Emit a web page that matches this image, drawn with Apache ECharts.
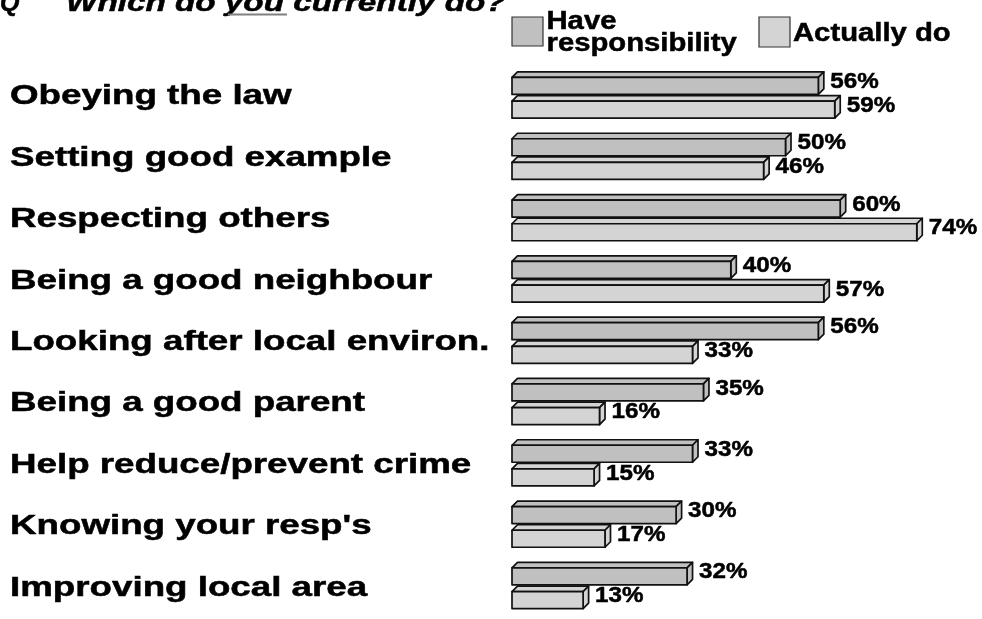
<!DOCTYPE html>
<html>
<head>
<meta charset="utf-8">
<script src="https://cdn.jsdelivr.net/npm/echarts@6/dist/echarts.min.js"></script>
<style>
  html, body { margin: 0; padding: 0; background: #fff; }
  #chart { width: 982px; height: 619px; }
</style>
</head>
<body>
<div id="chart"></div>
<script>
// Survey answers, percentages
const categories = [
  'Obeying the law',
  'Setting good example',
  'Respecting others',
  'Being a good neighbour',
  'Looking after local environ.',
  'Being a good parent',
  'Help reduce/prevent crime',
  "Knowing your resp's",
  'Improving local area'
];
const haveResponsibility = [56, 50, 60, 40, 56, 35, 33, 30, 32];
const actuallyDo = [59, 46, 74, 57, 33, 16, 15, 17, 13];
const seriesNames = ['Have\nresponsibility', 'Actually do'];
const questionMark = 'Q';
const questionText = 'Which do you currently do?';

const FONT = '"Liberation Sans", Arial, Helvetica, sans-serif';
const COLORS = ['#c0c0c0', '#d4d4d4'];
const EDGE = { stroke: '#111', lineWidth: 1.7, lineJoin: 'round' };
// slight outline thickens the bold lettering
const INK = { fill: '#000', stroke: '#000', lineWidth: 0.5 };

// Extruded horizontal bar: front face, top face and right side face, plus value label
function bar3d(slot, fill) {
  return function (params, api) {
    const idx = api.value(0);
    const val = api.value(1);
    const base = api.coord([0, idx]);
    const end = api.coord([val, idx]);
    const c = base[1];
    const x0 = base[0], x1 = end[0];
    const h = 17, d = 5.5;
    const y0 = slot === 0 ? c - 20.5 : c + 3.2;
    return {
      type: 'group',
      children: [
        { type: 'polygon',
          shape: { points: [[x0, y0], [x0 + d, y0 - d], [x1 + d, y0 - d], [x1, y0]] },
          style: Object.assign({ fill: fill }, EDGE) },
        { type: 'polygon',
          shape: { points: [[x1, y0], [x1 + d, y0 - d], [x1 + d, y0 - d + h], [x1, y0 + h]] },
          style: Object.assign({ fill: fill }, EDGE) },
        { type: 'rect',
          shape: { x: x0, y: y0, width: x1 - x0, height: h },
          style: Object.assign({ fill: fill }, EDGE) },
        { type: 'text', x: x1 + d + 6.5, y: y0 + 4.5, scaleX: 1.1,
          style: Object.assign({ text: val + '%', font: 'bold 22px ' + FONT,
                   align: 'left', verticalAlign: 'middle' }, INK) }
      ]
    };
  };
}

// Row captions on the left
function caption(params, api) {
  const idx = api.value(0);
  const p = api.coord([0, idx]);
  return {
    type: 'text', x: 10, y: p[1], scaleX: 1.36,
    style: Object.assign({ text: categories[idx], font: 'bold 27px ' + FONT,
             align: 'left', verticalAlign: 'middle' }, INK)
  };
}

const chart = echarts.init(document.getElementById('chart'));
chart.setOption({
  animation: false,
  backgroundColor: '#fff',
  grid: [
    { left: 512, top: 67.3, width: 437.6, height: 564.8 },
    { left: 0, top: 66, width: 500, height: 558 }
  ],
  xAxis: [
    { type: 'value', gridIndex: 0, min: 0, max: 80, show: false },
    { type: 'value', gridIndex: 1, min: 0, max: 1, show: false }
  ],
  yAxis: [
    { type: 'category', gridIndex: 0, data: categories, inverse: true, show: false },
    { type: 'category', gridIndex: 1, data: categories, inverse: true, show: false }
  ],
  series: [
    { type: 'custom', name: seriesNames[0], xAxisIndex: 0, yAxisIndex: 0,
      renderItem: bar3d(0, COLORS[0]), encode: { x: 1, y: 0 },
      data: haveResponsibility.map((v, i) => [i, v]) },
    { type: 'custom', name: seriesNames[1], xAxisIndex: 0, yAxisIndex: 0,
      renderItem: bar3d(1, COLORS[1]), encode: { x: 1, y: 0 },
      data: actuallyDo.map((v, i) => [i, v]) },
    { type: 'custom', name: 'captions', xAxisIndex: 1, yAxisIndex: 1,
      renderItem: caption, encode: { x: 1, y: 0 },
      data: categories.map((c, i) => [i, 0]) }
  ],
  graphic: { elements: [
    // question heading
    { type: 'text', x: 0, y: 4.5,
      style: Object.assign({ text: questionMark, font: 'italic bold 25px ' + FONT, verticalAlign: 'middle' }, INK) },
    { type: 'text', x: 66, y: 4.5, scaleX: 1.33,
      style: Object.assign({ text: questionText, font: 'italic bold 25px ' + FONT, verticalAlign: 'middle' }, INK) },
    { type: 'rect', shape: { x: 228, y: 13.5, width: 59, height: 2 }, style: { fill: '#808080' } },
    // key
    { type: 'rect', shape: { x: 512, y: 17, width: 31, height: 29 },
      style: { fill: COLORS[0], stroke: '#333', lineWidth: 1.2 } },
    { type: 'text', x: 546.5, y: 33.5, scaleX: 1.17,
      style: Object.assign({ text: seriesNames[0], font: 'bold 25px ' + FONT, lineHeight: 22,
               align: 'left', verticalAlign: 'middle' }, INK) },
    { type: 'rect', shape: { x: 759, y: 17, width: 31, height: 30 },
      style: { fill: COLORS[1], stroke: '#333', lineWidth: 1.2 } },
    { type: 'text', x: 793, y: 34, scaleX: 1.17,
      style: Object.assign({ text: seriesNames[1], font: 'bold 25px ' + FONT,
               align: 'left', verticalAlign: 'middle' }, INK) }
  ] }
});
</script>
</body>
</html>
